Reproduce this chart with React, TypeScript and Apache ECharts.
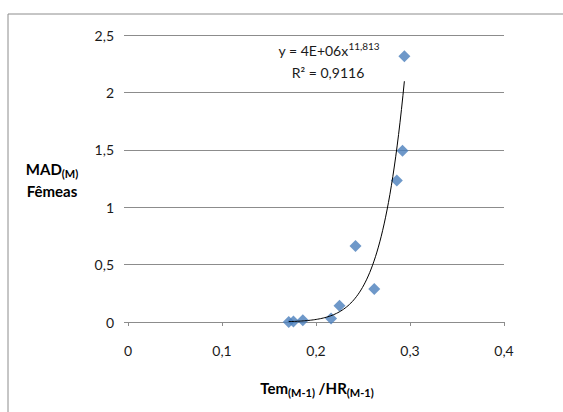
import React, { useEffect, useRef } from "react";
import * as echarts from "echarts";

const xValues = [0.171, 0.176, 0.186, 0.216, 0.225, 0.242, 0.262, 0.286, 0.292, 0.294];
const yValues = [0.0, 0.005, 0.015, 0.03, 0.142, 0.663, 0.287, 1.232, 1.492, 2.315];
const xTicks = ["0", "0,1", "0,2", "0,3", "0,4"];
const yTicks = ["0", "0,5", "1", "1,5", "2", "2,5"];
const trendCoef = 4e6;
const trendExp = 11.813;
const trendLabel = "y = 4E+06x";
const trendExpLabel = "11,813";
const r2Label = "R² = 0,9116";

const FONT = "Lato, 'Open Sans', sans-serif";

export default function App() {
  const ref = useRef<HTMLDivElement>(null);
  useEffect(() => {
    if (!ref.current) return;
    const chart = echarts.init(ref.current, null, { renderer: "svg" });
    const scatter = xValues.map((x, i) => [x, yValues[i]]);
    const xMin = Math.min(...xValues);
    const xMax = Math.max(...xValues);
    const trend: number[][] = [];
    const steps = 80;
    for (let i = 0; i <= steps; i++) {
      const x = xMin + ((xMax - xMin) * i) / steps;
      trend.push([x, trendCoef * Math.pow(x, trendExp)]);
    }
    const xLabelMap: Record<string, string> = {};
    [0, 0.1, 0.2, 0.3, 0.4].forEach((v, i) => (xLabelMap[v.toFixed(1)] = xTicks[i]));
    const yLabelMap: Record<string, string> = {};
    [0, 0.5, 1, 1.5, 2, 2.5].forEach((v, i) => (yLabelMap[v.toFixed(1)] = yTicks[i]));

    chart.setOption({
      animation: false,
      backgroundColor: "#ffffff",
      textStyle: { fontFamily: FONT },
      grid: { left: 128, right: 59, top: 35, bottom: 90, containLabel: false },
      xAxis: {
        type: "value",
        min: 0,
        max: 0.4,
        interval: 0.1,
        axisLine: { show: true, onZero: false, lineStyle: { color: "#8c8c8c", width: 1 } },
        axisTick: { show: true, length: 4, lineStyle: { color: "#8c8c8c" } },
        splitLine: { show: false },
        axisLabel: {
          margin: 21,
          fontSize: 14,
          color: "#1a1a1a",
          fontFamily: FONT,
          formatter: (v: number) => xLabelMap[v.toFixed(1)] ?? "",
        },
      },
      yAxis: {
        type: "value",
        min: 0,
        max: 2.5,
        interval: 0.5,
        axisLine: { show: false },
        axisTick: { show: true, length: 4, lineStyle: { color: "#8c8c8c" } },
        splitLine: { show: true, lineStyle: { color: "#8c8c8c", width: 1 } },
        axisLabel: {
          margin: 14,
          fontSize: 14,
          color: "#1a1a1a",
          fontFamily: FONT,
          formatter: (v: number) => yLabelMap[v.toFixed(1)] ?? "",
        },
      },
      series: [
        {
          type: "line",
          data: trend,
          showSymbol: false,
          symbol: "none",
          smooth: false,
          lineStyle: { color: "#000", width: 1 },
          z: 3,
        },
        {
          type: "scatter",
          data: scatter,
          symbol: "diamond",
          symbolSize: 12,
          itemStyle: { color: "#4a7ebb" },
          z: 2,
        },
      ],
      graphic: [
        {
          type: "rect",
          shape: { x: 8, y: 14, width: 700, height: 600 },
          style: { fill: "none", stroke: "#8c8c8c", lineWidth: 1 },
          z: 0,
        },
        {
          type: "text",
          x: 52,
          y: 169,
          style: {
            text: "{b|MAD}{s|(M)}",
            align: "center",
            verticalAlign: "middle",
            fontFamily: FONT,
            rich: {
              b: { fontSize: 15, fontWeight: "bold", fill: "#000", fontFamily: FONT, lineHeight: 18 },
              s: { fontSize: 11, fontWeight: "bold", fill: "#000", fontFamily: FONT, lineHeight: 18, padding: [9, 0, 0, 0] },
            },
          },
        },
        {
          type: "text",
          x: 52,
          y: 191,
          style: {
            text: "Fêmeas",
            align: "center",
            verticalAlign: "middle",
            fontSize: 15,
            fontWeight: "bold",
            fill: "#000",
            fontFamily: FONT,
          },
        },
        {
          type: "text",
          x: 317,
          y: 388,
          style: {
            text: "{b|Tem}{s|(M-1)}{b| /HR}{s|(M-1)}",
            align: "center",
            verticalAlign: "middle",
            fontFamily: FONT,
            rich: {
              b: { fontSize: 15, fontWeight: "bold", fill: "#000", fontFamily: FONT, lineHeight: 18 },
              s: { fontSize: 11, fontWeight: "bold", fill: "#000", fontFamily: FONT, lineHeight: 18, padding: [9, 0, 0, 0] },
            },
          },
        },
        {
          type: "text",
          x: 329,
          y: 50,
          style: {
            text: "{n|" + trendLabel + "}{e|" + trendExpLabel + "}",
            align: "center",
            verticalAlign: "middle",
            fontFamily: FONT,
            rich: {
              n: { fontSize: 14, fill: "#1a1a1a", fontFamily: FONT, lineHeight: 18 },
              e: { fontSize: 10, fill: "#1a1a1a", fontFamily: FONT, lineHeight: 18, padding: [0, 0, 8, 0] },
            },
          },
        },
        {
          type: "text",
          x: 328,
          y: 72,
          style: {
            text: r2Label,
            align: "center",
            verticalAlign: "middle",
            fontSize: 14,
            fill: "#1a1a1a",
            fontFamily: FONT,
          },
        },
      ],
    });
    return () => chart.dispose();
  }, []);
  return (
    <div
      ref={ref}
      style={{ position: "fixed", left: 0, top: 0, width: 563, height: 412 }}
    />
  );
}
